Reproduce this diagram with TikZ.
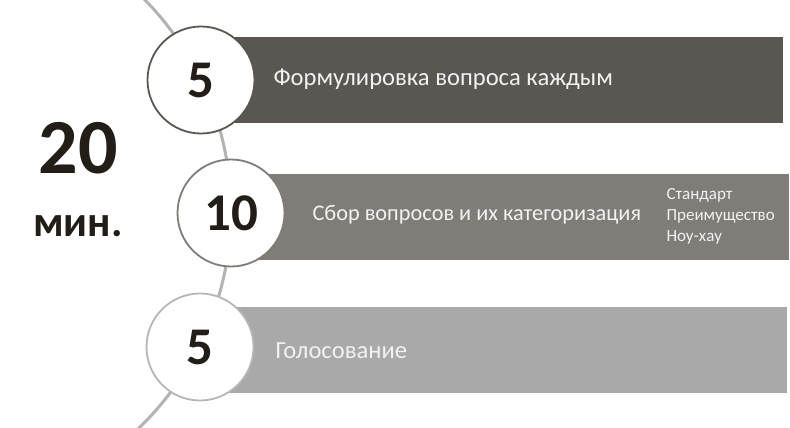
\documentclass[tikz,border=0pt]{standalone}
\usepackage{fontspec}
\setmainfont{Carlito}
\usetikzlibrary{positioning}
\definecolor{barA}{HTML}{5A5652}
\definecolor{barB}{HTML}{807D79}
\definecolor{barC}{HTML}{AAA9A9}
\definecolor{arcgray}{HTML}{B3B3B3}
\definecolor{numcol}{HTML}{221D17}
\definecolor{txtcol}{HTML}{F2F2F2}
\tikzset{
  bar/.style={rectangle, anchor=west, inner sep=0pt, minimum height=86pt},
  num/.style={circle, draw, fill=white, line width=1.8pt, minimum size=107pt, inner sep=0pt,
    text=numcol, font=\bfseries\fontsize{53}{53}\selectfont},
  lbl/.style={anchor=west, text=txtcol, font=\fontsize{24.6}{28}\selectfont},
}
\begin{document}
\begin{tikzpicture}[x=1pt,y=-1pt]
      \useasboundingbox (0,0) rectangle (790,428);
      \clip (0,0) rectangle (790,428);
      \coordinate (o) at (-71,211);
      \draw[arcgray, line width=3pt] (o) ++(-50:302) arc[start angle=-50, end angle=50, radius=302];

      \node [bar, fill=barA, minimum width=582pt] (b1) at (201,80) {};
      \node [bar, fill=barB, minimum width=558pt] (b2) at (231,216.5) {};
      \node [bar, fill=barC, minimum width=587pt] (b3) at (200,349.5) {};

      \node [num, draw=barA] (1) at (201,80) {5};
      \node [num, draw=barB] (2) at (231,213) {10};
      \node [num, draw=barC!85!white] (3) at (200,347) {5};

      \node [lbl] (t1) at (270,79) {Формулировка вопроса каждым};
      \node [lbl, font=\fontsize{22.3}{26}\selectfont] (t2) at (309,215) {Сбор вопросов и их категоризация};
      \node [lbl] (t3) at (272,351) {Голосование};
      \node [anchor=west, text=txtcol, font=\fontsize{17}{21}\selectfont, align=left] (t4) at (663,216)
        {Стандарт\\Преимущество\\Ноу-хау};

      \node [text=numcol, font=\bfseries\fontsize{78}{78}\selectfont] (20) at (78,148) {20};
      \node [below=35pt of 20, text=numcol, font=\bfseries\fontsize{43}{43}\selectfont] (min) {мин.};
    \end{tikzpicture}
\end{document}
